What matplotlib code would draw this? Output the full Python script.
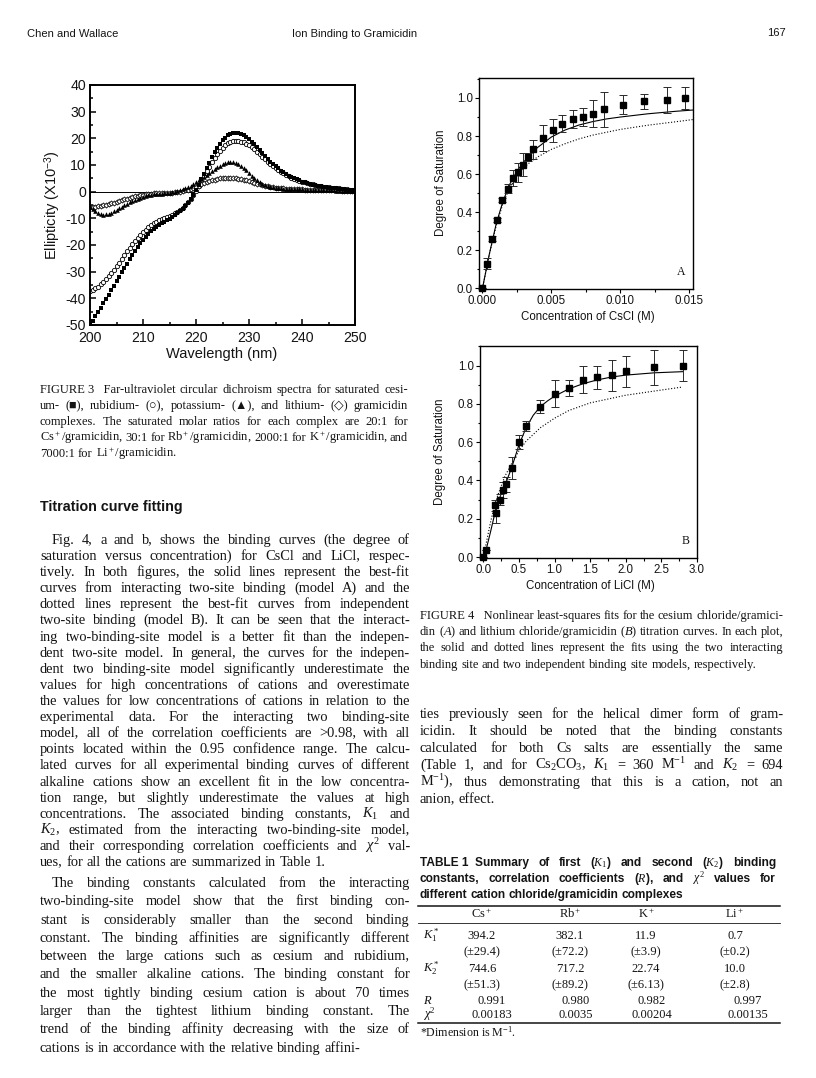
import math
import matplotlib
matplotlib.use('Agg')
import matplotlib.pyplot as plt
from matplotlib.lines import Line2D
from matplotlib.ticker import MultipleLocator
import numpy as np

# ---------------- Figure 3: CD spectra (ellipticity x10^-3) ----------------
wavelength = np.linspace(200, 250, 101)

cs_cd = [-50, -48.4, -46.8, -45.2, -43.5, -41.9, -40.2, -38.6, -36.9, -35.3,
         -33.6, -32, -30.3, -28.7, -27, -25.4, -23.8, -22.3, -20.8, -19.4,
         -18.1, -16.9, -15.8, -14.8, -13.9, -13.1, -12.4, -11.8, -11.2, -10.6,
         -10.1, -9.5, -8.8, -8.1, -7.3, -6.4, -5.4, -4.2, -2.8, -1.2,
         0.6, 2.6, 4.6, 6.7, 8.8, 10.9, 12.9, 14.8, 16.5, 18,
         19.3, 20.3, 21.1, 21.6, 21.9, 22, 21.9, 21.6, 21.1, 20.4,
         19.6, 18.7, 17.7, 16.7, 15.6, 14.5, 13.4, 12.3, 11.3, 10.4,
         9.5, 8.7, 7.9, 7.2, 6.6, 6, 5.5, 5, 4.6, 4.2,
         3.8, 3.5, 3.2, 2.9, 2.6, 2.4, 2.2, 2, 1.8, 1.6,
         1.5, 1.4, 1.3, 1.2, 1.1, 1, 0.9, 0.8, 0.7, 0.6, 0.5]

rb_cd = [-37.3, -36.9, -36.3, -35.6, -34.8, -33.9, -32.9, -31.8, -30.6, -29.3,
         -28, -26.6, -25.2, -23.8, -22.4, -21, -19.7, -18.5, -17.3, -16.2,
         -15.2, -14.3, -13.4, -12.6, -11.9, -11.3, -10.8, -10.3, -9.9, -9.5,
         -9.1, -8.6, -8.1, -7.5, -6.8, -6, -5.1, -4, -2.7, -1.2,
         0.4, 2.1, 3.9, 5.7, 7.6, 9.4, 11.1, 12.7, 14.1, 15.4,
         16.5, 17.4, 18.1, 18.6, 18.9, 19, 19, 18.8, 18.5, 18,
         17.4, 16.7, 15.9, 15, 14.1, 13.1, 12.2, 11.3, 10.4, 9.6,
         8.9, 8.2, 7.5, 6.9, 6.3, 5.8, 5.3, 4.9, 4.5, 4.1,
         3.8, 3.5, 3.2, 2.9, 2.7, 2.5, 2.3, 2.1, 1.9, 1.7,
         1.6, 1.5, 1.4, 1.3, 1.2, 1.1, 1, 0.9, 0.8, 0.7, 0.6]

k_cd = [-5.8, -6.6, -7.4, -8, -8.4, -8.6, -8.5, -8.3, -7.9, -7.4,
        -6.9, -6.3, -5.7, -5.1, -4.5, -4, -3.5, -3, -2.6, -2.2,
        -1.9, -1.6, -1.3, -1.1, -0.9, -0.8, -0.7, -0.7, -0.6, -0.6,
        -0.5, -0.3, -0.1, 0.2, 0.5, 0.9, 1.3, 1.8, 2.3, 2.9,
        3.5, 4.2, 4.9, 5.6, 6.3, 7.1, 7.8, 8.5, 9.2, 9.8,
        10.4, 10.9, 11.2, 11.3, 11.2, 10.9, 10.4, 9.7, 8.9, 8,
        7, 6, 5.1, 4.3, 3.6, 3, 2.5, 2.1, 1.8, 1.6,
        1.4, 1.3, 1.2, 1.1, 1.1, 1, 1, 1, 0.9, 0.9,
        0.9, 0.8, 0.8, 0.8, 0.7, 0.7, 0.7, 0.6, 0.6, 0.6,
        0.5, 0.5, 0.5, 0.4, 0.4, 0.4, 0.3, 0.3, 0.3, 0.2, 0.2]

li_cd = [-5.8, -5.7, -5.6, -5.5, -5.3, -5.1, -4.9, -4.6, -4.4, -4.1,
         -3.8, -3.5, -3.2, -2.9, -2.6, -2.3, -2, -1.8, -1.5, -1.3,
         -1.1, -0.9, -0.8, -0.7, -0.6, -0.5, -0.5, -0.5, -0.5, -0.5,
         -0.5, -0.4, -0.3, -0.2, 0, 0.2, 0.5, 0.8, 1.1, 1.5,
         1.9, 2.3, 2.7, 3.1, 3.5, 3.9, 4.2, 4.5, 4.8, 5,
         5.2, 5.3, 5.3, 5.3, 5.2, 5.1, 4.9, 4.7, 4.5, 4.2,
         3.9, 3.6, 3.3, 3, 2.7, 2.5, 2.2, 2, 1.8, 1.6,
         1.5, 1.4, 1.3, 1.2, 1.1, 1.1, 1, 1, 0.9, 0.9,
         0.9, 0.8, 0.8, 0.8, 0.7, 0.7, 0.7, 0.6, 0.6, 0.6,
         0.6, 0.5, 0.5, 0.5, 0.5, 0.4, 0.4, 0.4, 0.3, 0.3, 0.3]

# ---------------- Figure 4A: CsCl titration ----------------
csA_conc = [0.0, 0.00036, 0.00072, 0.00109, 0.00145, 0.00186, 0.00222, 0.00258,
            0.00295, 0.00333, 0.0037, 0.0044, 0.0051, 0.0058, 0.0066, 0.0073,
            0.008, 0.0088, 0.0102, 0.0117, 0.0134, 0.0147]
csA_sat = [0.0, 0.13, 0.262, 0.36, 0.464, 0.524, 0.58, 0.61, 0.65, 0.69, 0.73,
           0.79, 0.83, 0.866, 0.89, 0.90, 0.918, 0.94, 0.965, 0.983, 0.99, 1.0]
csA_err = [0.0, 0.03, 0.015, 0.01, 0.01, 0.025, 0.04, 0.05, 0.06, 0.02, 0.05,
           0.07, 0.06, 0.045, 0.045, 0.045, 0.07, 0.09, 0.05, 0.04, 0.07, 0.06]
fitA_conc = [0, 0.0005, 0.001, 0.0015, 0.002, 0.0025, 0.003, 0.0035, 0.004,
             0.005, 0.006, 0.007, 0.008, 0.009, 0.010, 0.012, 0.014, 0.0153]
fitA_solid = [0, 0.18, 0.34, 0.46, 0.55, 0.615, 0.665, 0.705, 0.74, 0.795,
              0.832, 0.858, 0.876, 0.89, 0.90, 0.917, 0.93, 0.937]
fitA_dotted = [0, 0.18, 0.33, 0.45, 0.53, 0.59, 0.635, 0.665, 0.69, 0.73,
               0.76, 0.785, 0.805, 0.82, 0.835, 0.857, 0.875, 0.887]

# ---------------- Figure 4B: LiCl titration ----------------
liB_conc = [0.0, 0.04, 0.16, 0.18, 0.24, 0.28, 0.32, 0.40, 0.50, 0.60, 0.80,
            1.0, 1.2, 1.4, 1.6, 1.8, 2.0, 2.4, 2.8]
liB_sat = [0.0, 0.035, 0.27, 0.23, 0.30, 0.35, 0.38, 0.465, 0.60, 0.685,
           0.785, 0.852, 0.882, 0.925, 0.94, 0.948, 0.97, 0.99, 1.0]
liB_err = [0.0, 0.0, 0.03, 0.05, 0.03, 0.04, 0.04, 0.055, 0.035, 0.025,
           0.035, 0.07, 0.04, 0.07, 0.06, 0.08, 0.08, 0.09, 0.08]
fitB_conc = [0, 0.04, 0.1, 0.15, 0.2, 0.25, 0.3, 0.35, 0.4, 0.5, 0.6, 0.7,
             0.8, 0.9, 1.0, 1.2, 1.4, 1.6, 1.8, 2.0, 2.4, 2.8]
fitB_solid = [0, 0.04, 0.13, 0.21, 0.28, 0.33, 0.37, 0.42, 0.47, 0.585, 0.675,
              0.74, 0.785, 0.815, 0.84, 0.878, 0.905, 0.925, 0.94, 0.95,
              0.962, 0.968]
fitB_dconc = [0, 0.05, 0.1, 0.15, 0.2, 0.3, 0.4, 0.5, 0.6, 0.8, 1.0, 1.2, 1.5,
              2.0, 2.5, 2.8]
fitB_dotted = [0, 0.09, 0.18, 0.26, 0.32, 0.42, 0.49, 0.555, 0.605, 0.675,
               0.725, 0.765, 0.805, 0.845, 0.872, 0.888]

# ---------------- Table 1 ----------------
cations = ['Cs$^+$', 'Rb$^+$', 'K$^+$', 'Li$^+$']
k1_vals = ['394.2', '382.1', '11.9', '0.7']
k1_errs = ['(\u00b129.4)', '(\u00b172.2)', '(\u00b13.9)', '(\u00b10.2)']
k2_vals = ['744.6', '717.2', '22.74', '10.0']
k2_errs = ['(\u00b151.3)', '(\u00b189.2)', '(\u00b16.13)', '(\u00b12.8)']
r_vals = ['0.991', '0.980', '0.982', '0.997']
chi2_vals = ['0.00183', '0.0035', '0.00204', '0.00135']

# ---------------- text of the page ----------------
fig3_caption = [
    "FIGURE\u00a03\u00a0\u00a0\u00a0Far-ultraviolet circular dichroism spectra for saturated cesi-",
    "um- (\u25a0), rubidium- (\u25cb), potassium- (\u25b2), and lithium- (\u25c7) gramicidin",
    "complexes. The saturated molar ratios for each complex are 20:1 for",
    "Cs$^+$/gramicidin, 30:1 for Rb$^+$/gramicidin, 2000:1 for K$^+$/gramicidin, and",
    "7000:1 for Li$^+$/gramicidin.",
]
para1 = [
    "Fig. 4, a and b, shows the binding curves (the degree of",
    "saturation versus concentration) for CsCl and LiCl, respec-",
    "tively. In both figures, the solid lines represent the best-fit",
    "curves from interacting two-site binding (model A) and the",
    "dotted lines represent the best-fit curves from independent",
    "two-site binding (model B). It can be seen that the interact-",
    "ing two-binding-site model is a better fit than the indepen-",
    "dent two-site model. In general, the curves for the indepen-",
    "dent two binding-site model significantly underestimate the",
    "values for high concentrations of cations and overestimate",
    "the values for low concentrations of cations in relation to the",
    "experimental data. For the interacting two binding-site",
    "model, all of the correlation coefficients are >0.98, with all",
    "points located within the 0.95 confidence range. The calcu-",
    "lated curves for all experimental binding curves of different",
    "alkaline cations show an excellent fit in the low concentra-",
    "tion range, but slightly underestimate the values at high",
    "concentrations. The associated binding constants, $K_1$ and",
    "$K_2$, estimated from the interacting two-binding-site model,",
    "and their corresponding correlation coefficients and $\\chi^2$ val-",
    "ues, for all the cations are summarized in Table 1.",
]
para2 = [
    "The binding constants calculated from the interacting",
    "two-binding-site model show that the first binding con-",
    "stant is considerably smaller than the second binding",
    "constant. The binding affinities are significantly different",
    "between the large cations such as cesium and rubidium,",
    "and the smaller alkaline cations. The binding constant for",
    "the most tightly binding cesium cation is about 70 times",
    "larger than the tightest lithium binding constant. The",
    "trend of the binding affinity decreasing with the size of",
    "cations is in accordance with the relative binding affini-",
]
fig4_caption = [
    "FIGURE\u00a04\u00a0\u00a0\u00a0Nonlinear least-squares fits for the cesium chloride/gramici-",
    "din ($A$) and lithium chloride/gramicidin ($B$) titration curves. In each plot,",
    "the solid and dotted lines represent the fits using the two interacting",
    "binding site and two independent binding site models, respectively.",
]
para3 = [
    "ties previously seen for the helical dimer form of gram-",
    "icidin. It should be noted that the binding constants",
    "calculated for both Cs salts are essentially the same",
    "(Table 1, and for Cs$_2$CO$_3$, $K_1$ = 360 M$^{-1}$ and $K_2$ = 694",
    "M$^{-1}$), thus demonstrating that this is a cation, not an",
    "anion, effect.",
]
table_caption = [
    "TABLE\u00a01\u00a0\u00a0Summary of first ($K_1$) and second ($K_2$) binding",
    "constants, correlation coefficients ($R$), and $\\chi^2$ values for",
    "different cation chloride/gramicidin complexes",
]

# ---------------- page setup ----------------
W, H = 816, 1078
plt.rcParams['mathtext.fontset'] = 'custom'
plt.rcParams['mathtext.rm'] = 'Liberation Serif'
plt.rcParams['mathtext.it'] = 'Liberation Serif:italic'
plt.rcParams['mathtext.bf'] = 'Liberation Serif:bold'
plt.rcParams['mathtext.sf'] = 'Liberation Sans'
plt.rcParams['axes.unicode_minus'] = False
SERIF = ['Liberation Serif', 'DejaVu Sans']
SANS = ['Liberation Sans', 'DejaVu Sans']
INK = '#141414'

fig = plt.figure(figsize=(W / 100, H / 100), dpi=100)
fig.patch.set_facecolor('white')
renderer = fig.canvas.get_renderer()


def fx(x):
    return x / W


def fy(y):
    return 1 - y / H


def put(x, y, s, size, family=SERIF, **kw):
    kw.setdefault('va', 'baseline')
    kw.setdefault('color', INK)
    return fig.text(fx(x), fy(y), s, fontsize=size, family=family, **kw)


def text_line(x0, x1, y, line, size, justify=True, indent=0, family=SERIF, weight='normal'):
    # words are placed one by one so that the line can be justified
    words = [w for w in line.split(' ') if w]
    objs = [put(x0, y, w, size, family=family, weight=weight) for w in words]
    widths = [o.get_window_extent(renderer).width for o in objs]
    gap = size * 100 / 72 * 0.25
    if justify and len(words) > 1:
        gap = (x1 - x0 - indent - sum(widths)) / (len(words) - 1)
    x = x0 + indent
    for o, w, word in zip(objs, widths, words):
        o.set_x(fx(x))
        if '$' not in word:
            # Agg snaps each word's bitmap by its own descent; compensate so
            # that all words of a line sit on the same pixel baseline
            _, hh, dd = renderer.get_text_width_height_descent(
                word, o.get_fontproperties(), False)
            shift = math.floor(hh + 1e-9) - math.floor(hh - dd + 1e-9) - dd
            o.set_y(fy(y + shift))
        x += w + gap


def block(lines, x0, x1, y0, step, size, indent=0, last_justified=False, **kw):
    for i, line in enumerate(lines):
        last = (i == len(lines) - 1) and not last_justified
        yy = int(round(y0 + i * step))
        text_line(x0, x1, yy, line, size, justify=not last,
                  indent=indent if i == 0 else 0, **kw)


# running head
put(27, 37, 'Chen and Wallace', 8, family=SANS)
put(355, 37, 'Ion Binding to Gramicidin', 8, family=SANS, ha='center')
put(786, 36, '167', 8, family=SANS, ha='right')

# ---------------- Figure 3 ----------------
ax1 = fig.add_axes([fx(90), fy(325), (355 - 90) / W, (325 - 85) / H])
ax1.axhline(0, color='k', lw=0.7, zorder=1)
ax1.plot(wavelength, cs_cd, 's', ms=2.8, color='k', mew=0, zorder=3)
ax1.plot(wavelength, rb_cd, 'o', ms=3.1, mfc='white', mec='k', mew=0.6, zorder=2)
ax1.plot(wavelength, k_cd, '^', ms=3.3, color='k', mew=0, zorder=3)
ax1.plot(wavelength, li_cd, 'D', ms=2.6, mfc='white', mec='k', mew=0.6, zorder=2)
ax1.set_xlim(200, 250)
ax1.set_ylim(-50, 40)
ax1.xaxis.set_major_locator(MultipleLocator(10))
ax1.xaxis.set_minor_locator(MultipleLocator(5))
ax1.yaxis.set_major_locator(MultipleLocator(10))
ax1.yaxis.set_minor_locator(MultipleLocator(5))
ax1.tick_params(which='both', direction='in', width=1.1, labelsize=10.2, labelcolor=INK)
ax1.tick_params(axis='x', pad=4.5)
ax1.tick_params(axis='y', pad=3)
ax1.tick_params(which='major', length=4.5)
ax1.tick_params(which='minor', length=2.5)
for sp in ax1.spines.values():
    sp.set_linewidth(1.4)
for lab in ax1.get_xticklabels() + ax1.get_yticklabels():
    lab.set_family(SANS)
put(53, 205, 'Ellipticity (X10$^{\\mathsf{-3}}$)', 10.5, family=SANS,
    rotation=90, ha='center', va='center')
put(222, 354, 'Wavelength (nm)', 10.5, family=SANS, ha='center', va='center')


# ---------------- Figure 4 ----------------
def titration(box, conc, sat, err, fc, fs, dc, fd, xlim, ylim, xstep, xminor, fmt, tag):
    l, t, r, b = box
    ax = fig.add_axes([fx(l), fy(b), (r - l) / W, (b - t) / H])
    ax.plot(fc, fs, '-', color='k', lw=0.8)
    ax.plot(dc, fd, ':', color='k', lw=0.8)
    eb = ax.errorbar(conc, sat, yerr=err, fmt='s', ms=4.3, color='k', ecolor='#2a2a2a',
                     elinewidth=0.7, capsize=3.2, capthick=0.7)
    for art in eb.lines[0:1] + tuple(eb.lines[1]) + tuple(eb.lines[2]):
        art.set_clip_on(False)
    ax.set_xlim(*xlim)
    ax.set_ylim(*ylim)
    ax.xaxis.set_major_locator(MultipleLocator(xstep))
    ax.xaxis.set_minor_locator(MultipleLocator(xminor))
    ax.yaxis.set_major_locator(MultipleLocator(0.2))
    ax.yaxis.set_minor_locator(MultipleLocator(0.1))
    ax.xaxis.set_major_formatter(fmt)
    ax.yaxis.set_major_formatter('{x:.1f}')
    ax.tick_params(which='both', direction='out', width=0.8, pad=1.5, labelsize=8.3,
                   labelcolor=INK)
    ax.tick_params(which='major', length=3)
    ax.tick_params(which='minor', length=1.8)
    for sp in ax.spines.values():
        sp.set_linewidth(1.0)
    for lab in ax.get_xticklabels() + ax.get_yticklabels():
        lab.set_family(SANS)
    ax.text(0.965, 0.05, tag, transform=ax.transAxes, ha='right', va='bottom',
            fontsize=8.5, family=SERIF, color=INK)
    return ax


titration((479, 78, 693, 289), csA_conc, csA_sat, csA_err, fitA_conc, fitA_solid,
          fitA_conc, fitA_dotted, (-0.00025, 0.01528), (-0.003, 1.105), 0.005, 0.0025,
          '{x:.3f}', 'A')
put(441, 183, 'Degree of Saturation', 8.3, family=SANS, rotation=90, ha='center', va='center')
put(588, 317, 'Concentration of CsCl (M)', 8.3, family=SANS, ha='center', va='center')

titration((480, 346, 697, 558), liB_conc, liB_sat, liB_err, fitB_conc, fitB_solid,
          fitB_dconc, fitB_dotted, (-0.047, 3.0), (-0.005, 1.102), 0.5, 0.25,
          '{x:.1f}', 'B')
put(440, 452, 'Degree of Saturation', 8.3, family=SANS, rotation=90, ha='center', va='center')
put(590, 586, 'Concentration of LiCl (M)', 8.3, family=SANS, ha='center', va='center')

# ---------------- captions and body text ----------------
block(fig3_caption, 40, 408, 393, 16, 9.0)
put(40, 511, 'Titration curve fitting', 10.3, family=SANS, weight='bold')
block(para1, 40, 410, 544, 16.1, 10.4, indent=12)
block(para2, 40, 410, 887, 18.3, 10.4, indent=12)

block(fig4_caption, 420, 783, 619, 16.2, 9.0)
block(para3, 420, 783, 718, 17, 10.4)

block(table_caption, 420, 776, 866, 16, 8.6, family=SANS, weight='bold')

# table 1 rules
for yy, lw in [(906, 1.1), (923, 0.6), (1023, 1.1)]:
    fig.add_artist(Line2D([fx(418), fx(780)], [fy(yy), fy(yy)], color=INK, lw=lw))

col_x = [482, 570, 646, 735]
col_x2 = [492, 576, 652, 748]
for cx, lab in zip(col_x, cations):
    put(cx, 918, lab, 9.0, ha='center')
rows = [(939, '$K_1^*$', k1_vals, col_x), (955, '', k1_errs, col_x),
        (972, '$K_2^*$', k2_vals, col_x), (988, '', k2_errs, col_x),
        (1004, '$R$', r_vals, col_x2), (1018, '$\\chi^2$', chi2_vals, col_x2)]
for yy, lab, vals, xs in rows:
    if lab:
        put(423, yy, lab, 9.0)
    for cx, v in zip(xs, vals):
        put(cx, yy, v, 9.0, ha='center')
put(420, 1037, '*Dimension is M$^{-1}$.', 8.6)

fig.savefig('out.png', dpi=100, facecolor='white')
